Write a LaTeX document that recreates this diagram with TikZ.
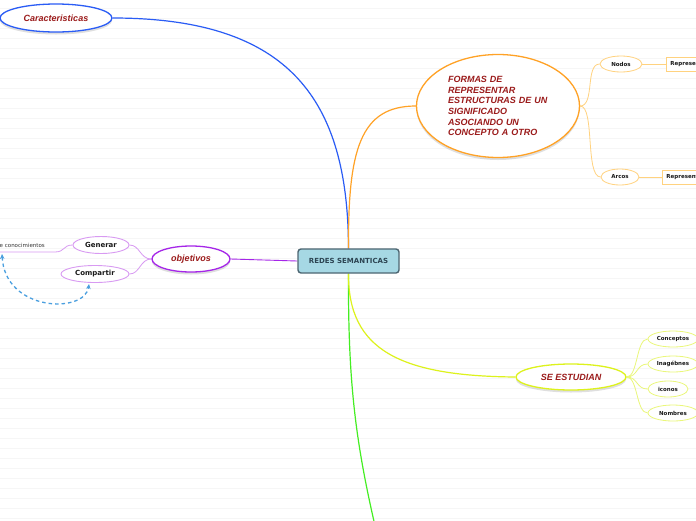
\documentclass[tikz,border=0pt]{standalone}
\usepackage{fontspec}
\setmainfont{Liberation Sans}
\newfontfamily\dv{DejaVu Sans}
\usetikzlibrary{shapes.geometric,shadows,arrows.meta}
\definecolor{cblue}{HTML}{2A5CF5}
\definecolor{corange}{HTML}{FFA226}
\definecolor{lorange}{HTML}{FFD27F}
\definecolor{cpurple}{HTML}{A526E8}
\definecolor{lpurple}{HTML}{D89AF2}
\definecolor{cyellow}{HTML}{DDF21C}
\definecolor{lyellow}{HTML}{EAF77A}
\definecolor{cgreen}{HTML}{44EE22}
\definecolor{dred}{HTML}{9B1B1B}
\definecolor{cfill}{HTML}{A6D8E4}
\definecolor{cborder}{HTML}{4D6672}
\definecolor{ctext}{HTML}{2C4452}
\definecolor{dashblue}{HTML}{4A9FDF}
\pgfdeclarelayer{bglayer}
\pgfdeclarelayer{linklayer}
\pgfsetlayers{bglayer,linklayer,main}
\tikzset{
  bgline/.style={draw=black!3.5, line width=0.6pt},
  central/.style={rectangle, rounded corners=3pt, fill=cfill, draw=cborder, line width=1.4pt,
    minimum width=101, minimum height=24, inner sep=0pt, text=ctext,
    font=\dv\bfseries\fontsize{7}{8}\selectfont},
  mainell/.style={ellipse, fill=white, line width=1.3pt, inner sep=0pt, text=dred,
    font=\fontsize{9}{10.6}\selectfont\bfseries\itshape,
    drop shadow={shadow xshift=0pt, shadow yshift=-2.5pt, opacity=0.25}},
  midell/.style={ellipse, fill=white, line width=0.9pt, inner sep=0pt, text=black!90,
    font=\dv\bfseries\fontsize{7}{8}\selectfont},
  subell/.style={ellipse, fill=white, line width=0.8pt, inner sep=0pt, text=black!90,
    font=\dv\bfseries\fontsize{5.5}{6.5}\selectfont},
  subbox/.style={rectangle, fill=white, draw=lorange, line width=0.8pt, minimum height=14,
    inner xsep=4pt, inner ysep=0pt, anchor=west, text=black!90,
    font=\dv\bfseries\fontsize{5.5}{6.5}\selectfont},
  mainlink/.style={line width=1.2pt},
  sublink/.style={line width=0.8pt},
  dasharrow/.style={draw=dashblue, line width=1.3pt, dash pattern=on 3.5pt off 3pt,
    {Stealth[length=5pt,width=4.5pt]}-{Stealth[length=5pt,width=4.5pt]}}
}
\begin{document}
\begin{tikzpicture}[x=1pt,y=-1pt]
\useasboundingbox (0,0) rectangle (696,520);
\begin{pgfonlayer}{bglayer}
\fill[white] (0,0) rectangle (696,520);
\foreach \yy in {8,18,...,518} \draw[bgline] (0,\yy) -- (696,\yy);
\end{pgfonlayer}

% nodes
\node[central] (c) at (348.5,261) {REDES SEMANTICAS};
\node[mainell, draw=cblue, minimum width=112, minimum height=28] (car) at (56,18) {Caracteristicas};
\node[mainell, draw=corange, minimum width=163, minimum height=103, text width=100pt, align=left] (formas) at (498,106)
  {FORMAS DE\\REPRESENTAR\\ESTRUCTURAS DE UN\\SIGNIFICADO\\ASOCIANDO UN\\CONCEPTO A OTRO};
\node[subell, draw=lorange, minimum width=42, minimum height=16] (nodos) at (621,64) {Nodos};
\node[subell, draw=lorange, minimum width=38, minimum height=16] (arcos) at (620,177) {Arcos};
\node[subbox] (rep1) at (666,64) {Representan};
\node[subbox] (rep2) at (662,177) {Representan};

\node[mainell, draw=cpurple, minimum width=78, minimum height=26] (obj) at (191,259) {objetivos};
\node[midell, draw=lpurple, minimum width=56, minimum height=17] (gen) at (101,245) {Generar};
\node[midell, draw=lpurple, minimum width=68, minimum height=17] (comp) at (95,274) {Compartir};
\node[anchor=base east, inner sep=0pt, text=black!80, font=\dv\fontsize{5.5}{6.5}\selectfont] (dec) at (45,247.5) {de conocimientos};
\coordinate (knee) at (55,252);
\coordinate (lend) at (-2,252);
\coordinate (da) at (2,254);
\coordinate (db) at (89,284);

\node[mainell, draw=cyellow, minimum width=110, minimum height=26] (se) at (571,377) {SE ESTUDIAN};
\node[subell, draw=lyellow, minimum width=50, minimum height=16] (conc) at (673,339) {Conceptos};
\node[subell, draw=lyellow, minimum width=50, minimum height=16] (imag) at (673,364) {Inagébnes};
\node[subell, draw=lyellow, minimum width=40, minimum height=16] (icon) at (668,389) {iconos};
\node[subell, draw=lyellow, minimum width=50, minimum height=16] (nomb) at (673,413) {Nombres};
\coordinate (gend) at (376,530);

% connectors
\begin{pgfonlayer}{linklayer}
\draw[mainlink, cblue] (c.north) .. controls (348,100) and (290,18) .. (car.east);
\draw[mainlink, corange] (c.north) .. controls (348,150) and (360,106) .. (formas.west);
\draw[mainlink, cgreen] (c.south) .. controls (348,380) and (355,440) .. (gend);
\draw[mainlink, cyellow] (c.south) .. controls (348,350) and (400,376) .. (se.west);
\draw[line width=0.9pt, cpurple] (c.west) -- (obj.east);

\draw[sublink, lorange] (formas.east) .. controls (595,106) and (585,64) .. (nodos.west);
\draw[sublink, lorange] (formas.east) .. controls (595,106) and (585,177) .. (arcos.west);
\draw[sublink, lorange] (nodos.east) -- (rep1.west);
\draw[sublink, lorange] (arcos.east) -- (rep2.west);

\draw[sublink, lpurple] (obj.west) .. controls (140,259) and (140,245) .. (gen.east);
\draw[sublink, lpurple] (obj.west) .. controls (140,259) and (140,274) .. (comp.east);
\draw[sublink, lpurple] (gen.west) .. controls (63,245) and (65,252) .. (knee) -- (lend);

\draw[sublink, lyellow] (se.east) .. controls (638,377) and (636,339) .. (conc.west);
\draw[sublink, lyellow] (se.east) .. controls (638,377) and (636,364) .. (imag.west);
\draw[sublink, lyellow] (se.east) .. controls (638,377) and (636,389) .. (icon.west);
\draw[sublink, lyellow] (se.east) .. controls (638,377) and (636,413) .. (nomb.west);
\end{pgfonlayer}
\draw[dasharrow] (da) .. controls (5,312) and (85,314) .. (db);
\end{tikzpicture}
\end{document}
